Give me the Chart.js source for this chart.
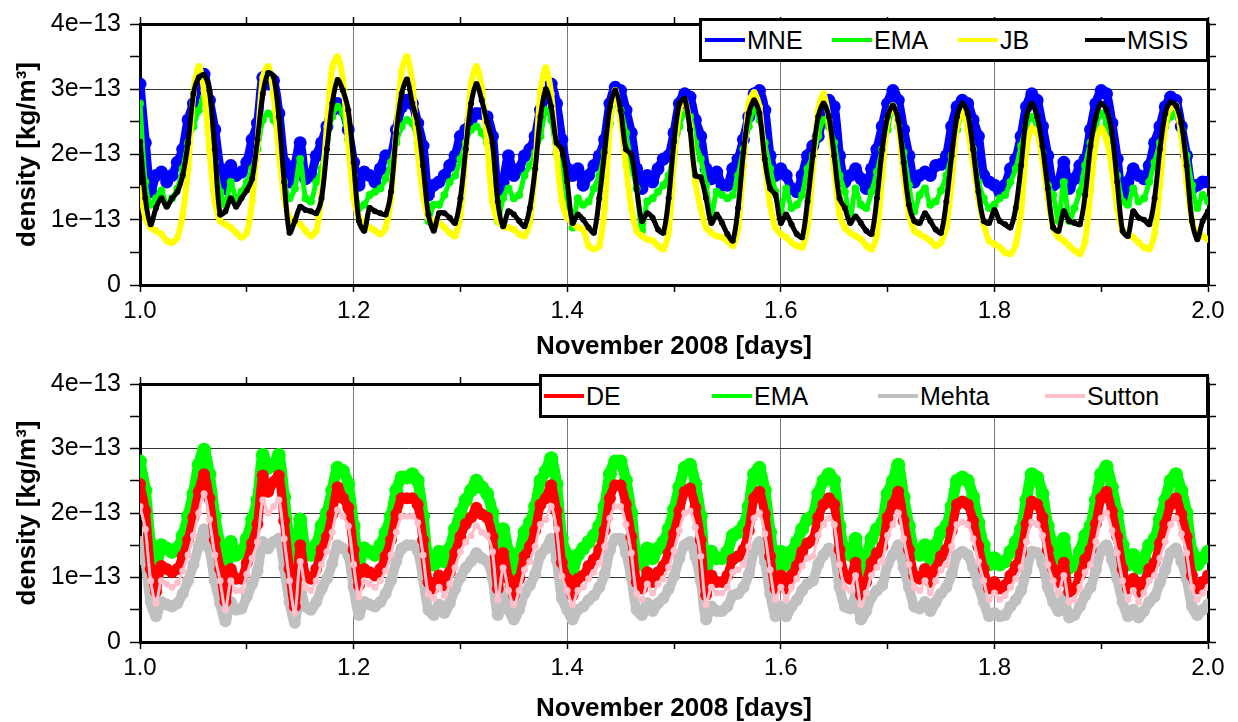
<!DOCTYPE html>
<html>
<head>
<meta charset="utf-8">
<title>Thermospheric density, November 2008</title>
<script src="https://cdn.jsdelivr.net/npm/chart.js"></script>
<style>
  body { margin: 0; background: #fff; }
  #wrap { position: relative; width: 1238px; height: 722px; font-family: "Liberation Sans", Arial, sans-serif; }
  canvas { position: absolute; left: 0; }
  .legend { position: absolute; box-sizing: border-box; border: 3px solid #000; background: #fff; z-index: 2; }
  .item { position: absolute; top: 0; height: 100%; display: flex; align-items: center; font-size: 25px; color: #000; white-space: nowrap; }
  .item i { display: inline-block; width: 40px; height: 4px; margin-right: 2px; }
</style>
</head>
<body>
<div id="wrap">
  <canvas id="topChart" width="1238" height="360" style="top:0"></canvas>
  <canvas id="bottomChart" width="1238" height="362" style="top:360px"></canvas>

  <div class="legend" style="left:699px; top:18px; width:510px; height:44px">
    <span class="item" style="left:3px"><i style="background:#0000ff"></i>MNE</span>
    <span class="item" style="left:130px"><i style="background:#00ff00"></i>EMA</span>
    <span class="item" style="left:256px"><i style="background:#ffff00"></i>JB</span>
    <span class="item" style="left:383px"><i style="background:#000000"></i>MSIS</span>
  </div>
  <div class="legend" style="left:539px; top:374px; width:670px; height:44px">
    <span class="item" style="left:2px"><i style="background:#ff0000"></i>DE</span>
    <span class="item" style="left:170px"><i style="background:#00ff00"></i>EMA</span>
    <span class="item" style="left:336px"><i style="background:#c0c0c0"></i>Mehta</span>
    <span class="item" style="left:503px"><i style="background:#ffc0cb"></i>Sutton</span>
  </div>
</div>

<script>
// time axis: November 2008, day 1.0 .. 2.0, one sample every 0.005 day
const dayStart = 1.0;
const dayStep = 0.005;
const sampleCount = 201;
const days = Array.from({ length: sampleCount }, (_, i) => +(dayStart + i * dayStep).toFixed(3));

const xTickLabels = ['1.0', '1.2', '1.4', '1.6', '1.8', '2.0'];
const yTickLabels = ['0', '1e\u221213', '2e\u221213', '3e\u221213', '4e\u221213'];

// densities below are in units of 1e-13 kg/m^3

// top panel
const mneDensity = [
  3.08, 2.18, 1.43, 1.68, 1.73, 1.58, 1.68, 1.88, 2.08, 2.53,
  2.78, 3.03, 3.23, 2.83, 2.38, 1.78, 1.48, 1.83, 1.68, 1.73,
  1.88, 2.23, 2.48, 3.18, 3.08, 3.13, 2.63, 1.88, 1.58, 1.83,
  2.18, 1.63, 1.68, 1.98, 2.18, 2.43, 2.68, 2.78, 2.68, 2.38,
  1.88, 1.53, 1.73, 1.68, 1.58, 1.78, 1.98, 1.98, 2.38, 2.73,
  2.83, 2.78, 2.48, 2.13, 1.38, 1.53, 1.58, 1.68, 1.83, 1.98,
  2.28, 2.38, 2.53, 2.63, 2.63, 2.58, 2.28, 1.43, 1.58, 1.98,
  1.68, 1.78, 1.98, 2.08, 2.28, 2.68, 2.88, 3.08, 2.78, 2.23,
  1.78, 1.68, 1.78, 1.53, 1.68, 1.83, 1.98, 2.23, 2.78, 3.03,
  2.98, 2.68, 2.33, 1.78, 1.48, 1.68, 1.58, 1.78, 1.93, 1.98,
  2.33, 2.78, 2.93, 2.88, 2.53, 2.28, 1.78, 1.63, 1.73, 1.53,
  1.53, 1.78, 1.93, 2.23, 2.58, 2.93, 2.98, 2.68, 1.98, 1.68,
  1.78, 1.68, 1.48, 1.43, 1.68, 1.98, 2.13, 2.28, 2.63, 2.83,
  2.73, 1.98, 1.58, 1.68, 1.78, 1.63, 1.48, 1.78, 2.08, 2.43,
  2.78, 2.98, 2.83, 2.38, 1.98, 1.58, 1.68, 1.73, 1.68, 1.83,
  1.85, 1.98, 2.43, 2.73, 2.83, 2.78, 2.53, 2.28, 1.68, 1.58,
  1.53, 1.43, 1.53, 1.78, 1.93, 2.28, 2.73, 2.93, 2.83, 2.43,
  1.98, 1.53, 1.58, 1.88, 1.48, 1.63, 1.83, 1.93, 2.38, 2.78,
  2.98, 2.93, 2.48, 1.93, 1.33, 1.58, 1.78, 1.68, 1.63, 1.83,
  2.18, 2.43, 2.73, 2.88, 2.83, 2.43, 1.98, 1.48, 1.53, 1.58, 1.58
];

const emaTopDensity = [
  2.78, 1.58, 1.23, 1.33, 1.45, 1.23, 1.33, 1.48, 1.78, 2.18,
  2.43, 2.68, 2.88, 2.53, 1.88, 1.43, 1.23, 1.58, 1.33, 1.43,
  1.58, 1.78, 2.08, 2.53, 2.63, 2.53, 2.28, 1.58, 1.33, 1.48,
  1.93, 1.33, 1.28, 1.58, 1.78, 2.23, 2.58, 2.73, 2.63, 2.23,
  1.68, 1.18, 1.23, 1.38, 1.43, 1.48, 1.63, 1.88, 2.18, 2.43,
  2.53, 2.48, 2.18, 1.53, 0.98, 1.23, 1.23, 1.38, 1.58, 1.68,
  1.93, 2.18, 2.38, 2.43, 2.33, 2.18, 1.58, 0.98, 1.33, 1.48,
  1.33, 1.38, 1.68, 1.83, 2.03, 2.28, 2.68, 2.53, 2.03, 1.78,
  1.33, 0.88, 1.33, 1.23, 1.28, 1.48, 1.68, 2.03, 2.48, 2.83,
  2.68, 2.33, 1.83, 1.48, 0.83, 1.28, 1.33, 1.43, 1.53, 1.68,
  2.03, 2.43, 2.63, 2.58, 2.18, 1.93, 1.53, 1.08, 1.43, 1.38,
  1.33, 1.38, 1.68, 2.08, 2.43, 2.68, 2.53, 2.18, 1.78, 1.43,
  1.13, 1.48, 1.18, 1.23, 1.38, 1.78, 1.98, 2.28, 2.53, 2.43,
  2.18, 1.68, 1.43, 1.03, 1.48, 1.23, 1.18, 1.43, 1.73, 2.08,
  2.38, 2.73, 2.43, 2.03, 1.53, 1.13, 1.38, 1.48, 1.23, 1.28,
  1.45, 1.68, 1.98, 2.38, 2.63, 2.53, 2.08, 1.58, 1.33, 1.18,
  1.23, 1.33, 1.38, 1.58, 1.78, 2.13, 2.43, 2.58, 2.38, 2.03,
  1.53, 1.38, 0.98, 1.58, 0.98, 1.18, 1.43, 1.83, 2.18, 2.43,
  2.63, 2.48, 2.13, 1.68, 1.28, 1.23, 1.48, 1.28, 1.33, 1.58,
  1.88, 2.18, 2.43, 2.58, 2.63, 2.38, 1.98, 1.53, 1.18, 1.38, 1.28
];

const jbDensity = [
  1.48, 1.03, 0.88, 0.83, 0.78, 0.68, 0.65, 0.73, 1.08, 1.78,
  2.93, 3.35, 2.98, 2.08, 1.28, 0.98, 0.93, 0.88, 0.80, 0.73,
  0.80, 1.28, 2.18, 3.18, 3.35, 2.93, 2.03, 1.33, 1.03, 0.98,
  0.93, 0.83, 0.75, 0.83, 1.38, 2.43, 3.33, 3.50, 3.13, 2.18,
  1.33, 1.03, 0.95, 0.88, 0.83, 0.78, 0.88, 1.33, 2.38, 3.28,
  3.50, 3.08, 2.08, 1.38, 1.03, 0.98, 0.95, 0.88, 0.80, 0.75,
  1.08, 2.03, 3.08, 3.35, 3.03, 2.18, 1.28, 0.98, 0.90, 0.88,
  0.85, 0.78, 0.75, 0.98, 1.78, 2.98, 3.33, 2.93, 2.03, 1.28,
  1.03, 0.95, 0.88, 0.85, 0.60, 0.55, 0.60, 1.18, 2.43, 2.98,
  2.53, 1.83, 1.18, 0.83, 0.75, 0.70, 0.68, 0.60, 0.55, 0.83,
  1.90, 2.68, 2.83, 2.43, 1.58, 1.18, 0.88, 0.80, 0.75, 0.73,
  0.68, 0.60, 0.88, 1.83, 2.78, 2.95, 2.73, 1.88, 1.23, 0.88,
  0.78, 0.73, 0.65, 0.60, 0.58, 0.88, 1.78, 2.68, 2.93, 2.53,
  1.78, 1.08, 0.88, 0.80, 0.75, 0.70, 0.60, 0.55, 0.78, 1.68,
  2.53, 2.75, 2.43, 1.68, 1.08, 0.83, 0.78, 0.73, 0.68, 0.60,
  0.65, 0.88, 1.58, 2.43, 2.68, 2.38, 1.88, 1.33, 0.93, 0.68,
  0.63, 0.58, 0.50, 0.48, 0.63, 1.13, 2.08, 2.40, 2.33, 1.93,
  1.33, 0.88, 0.73, 0.68, 0.60, 0.53, 0.48, 0.68, 1.43, 2.18,
  2.40, 2.23, 1.78, 1.18, 0.83, 0.78, 0.73, 0.65, 0.58, 0.55,
  0.78, 1.53, 2.43, 2.73, 2.75, 2.28, 1.58, 0.98, 0.78, 0.75, 0.70
];

const msisDensity = [
  2.20, 1.33, 0.93, 1.18, 1.33, 1.20, 1.33, 1.43, 1.68, 2.18,
  2.93, 3.18, 3.22, 2.98, 2.08, 1.08, 1.13, 1.33, 1.20, 1.33,
  1.45, 1.63, 2.23, 2.93, 3.25, 3.20, 2.58, 1.58, 0.80, 0.98,
  1.20, 1.15, 1.13, 1.10, 1.33, 2.08, 2.78, 3.14, 2.98, 2.68,
  1.88, 0.98, 0.83, 1.18, 1.13, 1.10, 1.08, 1.43, 2.33, 2.93,
  3.15, 2.78, 2.48, 1.83, 1.08, 0.83, 1.10, 1.10, 1.03, 0.95,
  1.33, 2.08, 2.78, 3.08, 2.83, 2.50, 2.18, 1.28, 0.90, 1.13,
  1.08, 0.98, 0.90, 1.18, 1.78, 2.58, 3.00, 2.73, 2.18, 2.08,
  1.58, 0.95, 1.08, 1.00, 0.88, 0.80, 1.33, 2.03, 2.73, 2.98,
  2.68, 2.08, 2.00, 1.48, 0.98, 1.10, 1.03, 0.85, 0.80, 1.33,
  2.20, 2.78, 2.85, 2.38, 1.68, 1.65, 1.33, 0.95, 1.08, 0.95,
  0.78, 0.68, 1.18, 2.03, 2.63, 2.83, 2.63, 1.93, 1.48, 1.38,
  0.95, 1.08, 0.93, 0.78, 0.73, 1.28, 1.98, 2.58, 2.78, 2.58,
  1.98, 1.33, 1.18, 0.95, 1.05, 0.95, 0.83, 0.78, 1.33, 2.08,
  2.58, 2.75, 2.53, 1.88, 1.23, 0.98, 0.95, 1.10, 0.98, 0.85,
  0.80, 1.28, 1.98, 2.58, 2.78, 2.63, 2.08, 1.43, 0.98, 0.95,
  1.15, 0.98, 0.93, 0.88, 1.18, 1.83, 2.58, 2.78, 2.58, 2.13,
  1.48, 0.88, 0.83, 1.13, 0.98, 0.95, 0.93, 1.38, 2.13, 2.58,
  2.78, 2.68, 2.33, 1.58, 0.83, 0.75, 1.13, 1.03, 1.00, 0.93,
  1.33, 2.08, 2.63, 2.80, 2.75, 2.48, 1.83, 0.98, 0.70, 0.98, 1.13
];

// bottom panel
const deDensity = [
  2.45, 2.03, 1.13, 0.78, 1.18, 1.13, 1.08, 1.13, 1.33, 1.58,
  1.93, 2.33, 2.60, 2.23, 1.58, 1.13, 0.63, 1.13, 0.98, 0.98,
  1.23, 1.53, 1.83, 2.58, 2.33, 2.48, 2.58, 1.88, 1.13, 0.55,
  1.50, 1.03, 0.98, 1.13, 1.43, 1.63, 1.98, 2.40, 2.23, 2.08,
  1.43, 0.88, 1.13, 1.08, 1.03, 1.13, 1.33, 1.58, 1.98, 2.23,
  2.23, 2.23, 2.13, 1.58, 0.93, 0.83, 1.03, 0.88, 1.08, 1.38,
  1.63, 1.83, 1.93, 2.08, 1.98, 1.93, 1.63, 0.83, 1.38, 0.98,
  0.73, 0.98, 1.33, 1.48, 1.73, 2.13, 2.23, 2.43, 2.03, 1.23,
  0.98, 0.73, 0.98, 1.03, 1.18, 1.28, 1.43, 1.73, 2.23, 2.43,
  2.43, 2.13, 1.63, 0.93, 0.83, 1.08, 0.93, 1.08, 1.18, 1.38,
  1.68, 2.03, 2.33, 2.38, 2.08, 1.58, 0.73, 1.03, 0.93, 0.93,
  1.03, 1.28, 1.33, 1.43, 1.73, 2.23, 2.33, 1.98, 1.33, 0.83,
  1.03, 0.83, 1.03, 1.18, 1.40, 1.53, 1.58, 1.93, 2.13, 2.23,
  2.13, 1.43, 1.03, 0.98, 1.23, 0.73, 0.93, 1.23, 1.38, 1.48,
  1.93, 2.13, 2.33, 1.88, 1.43, 1.03, 0.98, 1.13, 0.93, 1.13,
  1.33, 1.43, 1.73, 2.13, 2.18, 2.13, 1.88, 1.48, 1.13, 0.83,
  0.93, 0.83, 0.88, 1.03, 1.18, 1.38, 1.83, 2.18, 2.13, 1.93,
  1.43, 1.13, 0.93, 1.23, 0.78, 0.83, 1.03, 1.28, 1.43, 1.83,
  2.23, 2.33, 2.03, 1.63, 1.13, 0.83, 0.98, 0.78, 0.93, 1.13,
  1.23, 1.53, 1.83, 2.13, 2.23, 1.98, 1.63, 1.03, 0.83, 0.93, 1.03
];

const emaBottomDensity = [
  2.80, 2.35, 1.50, 1.15, 1.50, 1.45, 1.40, 1.45, 1.65, 1.95,
  2.30, 2.75, 2.98, 2.60, 1.95, 1.50, 1.00, 1.55, 1.35, 1.40,
  1.60, 1.90, 2.20, 2.90, 2.70, 2.75, 2.90, 2.25, 1.50, 0.95,
  1.90, 1.40, 1.35, 1.50, 1.80, 2.00, 2.35, 2.70, 2.65, 2.45,
  1.80, 1.20, 1.45, 1.40, 1.35, 1.50, 1.70, 1.95, 2.35, 2.55,
  2.55, 2.60, 2.50, 1.95, 1.25, 1.20, 1.40, 1.25, 1.45, 1.75,
  2.00, 2.20, 2.35, 2.50, 2.40, 2.30, 2.00, 1.20, 1.75, 1.40,
  1.10, 1.35, 1.70, 1.85, 2.10, 2.50, 2.65, 2.85, 2.45, 1.60,
  1.35, 1.10, 1.35, 1.45, 1.55, 1.65, 1.80, 2.10, 2.60, 2.80,
  2.80, 2.50, 2.00, 1.30, 1.20, 1.45, 1.30, 1.45, 1.55, 1.75,
  2.05, 2.40, 2.70, 2.75, 2.45, 1.95, 1.10, 1.40, 1.30, 1.30,
  1.40, 1.65, 1.70, 1.80, 2.10, 2.60, 2.70, 2.35, 1.70, 1.20,
  1.40, 1.20, 1.40, 1.55, 1.75, 1.90, 1.95, 2.30, 2.50, 2.60,
  2.50, 1.80, 1.40, 1.35, 1.60, 1.10, 1.30, 1.60, 1.75, 1.85,
  2.30, 2.50, 2.75, 2.25, 1.80, 1.40, 1.35, 1.50, 1.30, 1.50,
  1.70, 1.80, 2.10, 2.50, 2.55, 2.50, 2.25, 1.85, 1.50, 1.20,
  1.30, 1.20, 1.25, 1.40, 1.55, 1.75, 2.20, 2.60, 2.55, 2.30,
  1.80, 1.50, 1.30, 1.60, 1.15, 1.20, 1.40, 1.65, 1.80, 2.20,
  2.60, 2.72, 2.40, 2.00, 1.50, 1.20, 1.35, 1.15, 1.30, 1.50,
  1.60, 1.90, 2.20, 2.50, 2.60, 2.35, 2.00, 1.40, 1.20, 1.30, 1.40
];

const mehtaDensity = [
  1.55, 1.25, 0.62, 0.40, 0.62, 0.58, 0.55, 0.60, 0.75, 0.95,
  1.20, 1.48, 1.75, 1.45, 0.95, 0.60, 0.32, 0.62, 0.50, 0.52,
  0.70, 0.90, 1.10, 1.55, 1.45, 1.55, 1.60, 1.15, 0.62, 0.30,
  0.82, 0.55, 0.50, 0.62, 0.82, 0.98, 1.22, 1.50, 1.45, 1.35,
  0.85, 0.42, 0.62, 0.58, 0.55, 0.62, 0.75, 0.95, 1.25, 1.45,
  1.50, 1.50, 1.42, 1.00, 0.50, 0.42, 0.58, 0.45, 0.60, 0.82,
  1.00, 1.15, 1.25, 1.38, 1.30, 1.25, 1.00, 0.42, 0.80, 0.50,
  0.35, 0.50, 0.75, 0.88, 1.05, 1.35, 1.45, 1.60, 1.28, 0.68,
  0.50, 0.35, 0.50, 0.55, 0.65, 0.72, 0.85, 1.05, 1.42, 1.60,
  1.60, 1.38, 1.00, 0.50, 0.42, 0.60, 0.48, 0.60, 0.68, 0.82,
  1.02, 1.30, 1.50, 1.55, 1.32, 0.95, 0.35, 0.55, 0.48, 0.48,
  0.55, 0.72, 0.75, 0.85, 1.05, 1.42, 1.55, 1.25, 0.75, 0.40,
  0.55, 0.40, 0.55, 0.65, 0.80, 0.90, 0.95, 1.20, 1.35, 1.45,
  1.38, 0.85, 0.55, 0.52, 0.70, 0.35, 0.48, 0.70, 0.80, 0.88,
  1.20, 1.35, 1.50, 1.15, 0.85, 0.55, 0.52, 0.62, 0.48, 0.62,
  0.75, 0.85, 1.05, 1.35, 1.40, 1.35, 1.15, 0.88, 0.62, 0.40,
  0.45, 0.40, 0.42, 0.55, 0.65, 0.80, 1.10, 1.40, 1.38, 1.22,
  0.85, 0.62, 0.48, 0.70, 0.38, 0.42, 0.55, 0.72, 0.85, 1.12,
  1.42, 1.50, 1.28, 0.98, 0.62, 0.40, 0.50, 0.38, 0.48, 0.62,
  0.70, 0.92, 1.12, 1.38, 1.45, 1.25, 0.98, 0.55, 0.42, 0.50, 0.58
];

const suttonDensity = [
  2.10, 1.75, 0.95, 0.60, 0.95, 0.90, 0.85, 0.92, 1.10, 1.35,
  1.65, 2.00, 2.30, 1.90, 1.35, 0.95, 0.50, 0.95, 0.80, 0.80,
  1.05, 1.30, 1.55, 2.20, 2.00, 2.10, 2.20, 1.60, 0.95, 0.45,
  1.25, 0.85, 0.80, 0.95, 1.20, 1.40, 1.70, 2.05, 1.95, 1.80,
  1.20, 0.70, 0.95, 0.90, 0.85, 0.95, 1.10, 1.35, 1.70, 1.95,
  1.95, 1.95, 1.85, 1.35, 0.75, 0.68, 0.85, 0.72, 0.90, 1.15,
  1.40, 1.55, 1.65, 1.80, 1.70, 1.65, 1.40, 0.65, 1.15, 0.80,
  0.58, 0.80, 1.12, 1.25, 1.48, 1.82, 1.90, 2.10, 1.75, 1.02,
  0.80, 0.58, 0.80, 0.85, 0.98, 1.08, 1.22, 1.48, 1.92, 2.10,
  2.10, 1.82, 1.38, 0.75, 0.66, 0.90, 0.76, 0.90, 0.98, 1.16,
  1.42, 1.73, 2.00, 2.03, 1.78, 1.33, 0.58, 0.85, 0.76, 0.76,
  0.85, 1.08, 1.12, 1.20, 1.48, 1.92, 2.00, 1.68, 1.12, 0.66,
  0.85, 0.66, 0.85, 0.98, 1.18, 1.30, 1.33, 1.65, 1.82, 1.92,
  1.82, 1.20, 0.85, 0.80, 1.03, 0.58, 0.76, 1.03, 1.16, 1.25,
  1.65, 1.82, 2.00, 1.60, 1.20, 0.85, 0.80, 0.95, 0.76, 0.95,
  1.12, 1.20, 1.48, 1.82, 1.86, 1.82, 1.60, 1.25, 0.95, 0.66,
  0.76, 0.66, 0.72, 0.85, 0.98, 1.16, 1.56, 1.86, 1.82, 1.65,
  1.20, 0.95, 0.76, 1.03, 0.62, 0.66, 0.85, 1.08, 1.20, 1.56,
  1.92, 2.00, 1.73, 1.38, 0.95, 0.66, 0.80, 0.62, 0.76, 0.95,
  1.03, 1.30, 1.56, 1.82, 1.92, 1.68, 1.38, 0.85, 0.66, 0.76, 0.85
];

Chart.defaults.font.family = '"Liberation Sans", Arial, sans-serif';
Chart.defaults.color = '#000';

function series(label, values, color, lineWidth, radius, order) {
  return {
    label: label,
    data: values,
    borderColor: color,
    backgroundColor: color,
    borderWidth: lineWidth,
    borderJoinStyle: 'round',
    borderCapStyle: 'round',
    pointRadius: radius,
    pointBorderWidth: 0,
    pointBackgroundColor: color,
    tension: 0.3,
    order: order
  };
}

// panel options: axis boxes are forced so both plot areas line up with the figure
function panelOptions(topBox, bottomBox) {
  return {
    responsive: false,
    animation: false,
    events: [],
    layout: { padding: 0 },
    plugins: { legend: { display: false }, tooltip: { enabled: false } },
    scales: {
      x: {
        type: 'linear', position: 'bottom', min: 1, max: 2,
        afterFit: s => { s.height = bottomBox; },
        ticks: {
          stepSize: 0.1, autoSkip: false, maxRotation: 0, padding: 5,
          font: { size: 24 },
          callback: v => {
            const k = Math.round(v * 10);
            return k % 2 === 0 ? xTickLabels[(k - 10) / 2] : '';
          }
        },
        grid: {
          color: c => {
            const k = Math.round(c.tick.value * 10);
            return (k % 2 === 0 && k > 10 && k < 20) ? '#7a7a7a' : 'rgba(0,0,0,0)';
          },
          lineWidth: 1, tickColor: '#000', tickLength: 7, tickWidth: 1.5
        },
        border: { color: '#000', width: 3 },
        title: {
          display: true, text: 'November 2008 [days]',
          font: { size: 26, weight: 'bold', lineHeight: 1 },
          padding: { top: 0, bottom: 0 }
        }
      },
      x2: {
        type: 'linear', position: 'top', min: 1, max: 2,
        afterFit: s => { s.height = topBox; },
        ticks: { stepSize: 0.1, autoSkip: false, display: false },
        grid: { drawOnChartArea: false, tickColor: '#000', tickLength: 7, tickWidth: 1.5 },
        border: { color: '#000', width: 3 }
      },
      y: {
        type: 'linear', position: 'left', min: 0, max: 4,
        afterFit: s => { s.width = 140; },
        ticks: {
          stepSize: 0.5, autoSkip: false, padding: 9,
          font: { size: 25 },
          callback: v => Number.isInteger(v) ? yTickLabels[v] : ''
        },
        grid: {
          color: c => {
            const v = c.tick.value;
            return (Number.isInteger(v) && v > 0 && v < 4) ? '#333' : 'rgba(0,0,0,0)';
          },
          lineWidth: 1, tickColor: '#000', tickLength: 10, tickWidth: 1.5
        },
        border: { color: '#000', width: 3 },
        title: {
          display: true, text: 'density [kg/m\u00b3]',
          font: { size: 26, weight: 'bold', lineHeight: 1 },
          padding: { top: 15, bottom: 0 }
        }
      },
      y2: {
        type: 'linear', position: 'right', min: 0, max: 4,
        afterFit: s => { s.width = 30; },
        ticks: { stepSize: 0.5, autoSkip: false, display: false },
        grid: { drawOnChartArea: false, tickColor: '#000', tickLength: 8, tickWidth: 1.5 },
        border: { color: '#000', width: 3 }
      }
    }
  };
}

new Chart(document.getElementById('topChart'), {
  type: 'line',
  data: {
    labels: days,
    datasets: [
      series('MNE', mneDensity, '#0000ff', 9, 6.5, 3),
      series('EMA', emaTopDensity, '#00ff00', 5, 4, 2),
      series('JB', jbDensity, '#ffff00', 6, 3.5, 1),
      series('MSIS', msisDensity, '#000000', 5, 3, 0)
    ]
  },
  options: panelOptions(19, 75)
});

new Chart(document.getElementById('bottomChart'), {
  type: 'line',
  data: {
    labels: days,
    datasets: [
      series('DE', deDensity, '#ff0000', 9, 6, 1),
      series('EMA', emaBottomDensity, '#00ff00', 11, 7, 3),
      series('Mehta', mehtaDensity, '#c0c0c0', 10, 6, 2),
      series('Sutton', suttonDensity, '#ffc0cb', 3, 3.5, 0)
    ]
  },
  options: panelOptions(15, 80)
});
</script>
</body>
</html>
